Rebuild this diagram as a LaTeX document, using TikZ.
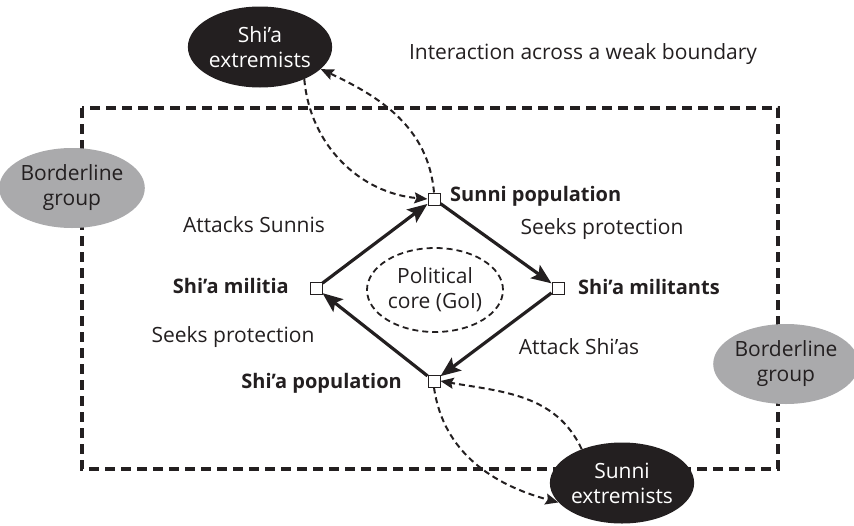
\documentclass[tikz,border=0pt]{standalone}
\usepackage{fontspec}
\setmainfont{Open Sans}
\usetikzlibrary{arrows.meta,shapes.geometric}
\definecolor{bgray}{RGB}{170,170,172}
\definecolor{ink}{RGB}{35,31,32}
\begin{document}
\begin{tikzpicture}[x=1pt,y=-1pt,
  every node/.style={font=\fontsize{21}{25}\selectfont, text=ink},
  frame/.style={draw=ink, line width=3.6pt, dash pattern=on 10pt off 6pt},
  grayell/.style={ellipse, fill=bgray, minimum width=132pt, minimum height=80pt, inner sep=0pt, align=center},
  blackell/.style={ellipse, fill=ink, text=white, minimum width=134pt, minimum height=81pt, inner sep=0pt, align=center},
  pbox/.style={rectangle, draw=ink, fill=white, line width=1pt, minimum size=12pt, inner sep=0pt},
  lab/.style={font=\fontsize{20}{24}\selectfont\bfseries, inner sep=0pt},
  txt/.style={inner sep=0pt},
  solidarr/.style={draw=ink, line width=3.2pt, -{Stealth[length=20pt,width=16pt,inset=4pt]}},
  dcurve/.style={draw=ink, line width=2pt, dash pattern=on 6pt off 4pt, -{Stealth[length=13pt,width=11pt,inset=2pt]}}
]
\path[use as bounding box] (0,0) rectangle (854,525);
\draw[frame] (82,108) rectangle (778,469);
% ellipses
\node[grayell] (bl) at (72,188) {Borderline\\group};
\node[grayell] (br) at (786,364) {Borderline\\group};
\node[blackell] (se) at (260,47) {Shi’a\\extremists};
\node[blackell] (ue) at (622,483) {Sunni\\extremists};
\node[ellipse, draw=ink, line width=1.8pt, dash pattern=on 6pt off 4pt, minimum width=136pt, minimum height=84pt, inner sep=0pt, align=center] (core) at (435,290) {Political\\core (GoI)};
% boxes
\node[pbox] (sp) at (434,199) {};
\node[pbox] (mt) at (558,288) {};
\node[pbox] (ml) at (316,288) {};
\node[pbox] (hp) at (434,381) {};
% labels
\node[lab, anchor=west] (lsp) at (450,196) {Sunni population};
\node[lab, anchor=west] (lmt) at (578,287) {Shi’a militants};
\node[lab, anchor=east] (lml) at (289,286) {Shi’a militia};
\node[lab, anchor=east] (lhp) at (402,383) {Shi’a population};
\node[txt] (t1) at (254,225) {Attacks Sunnis};
\node[txt] (t2) at (602,229) {Seeks protection};
\node[txt] (t3) at (233,337) {Seeks protection};
\node[txt] (t4) at (579,347) {Attack Shi’as};
\node[txt] (t5) at (583,54) {Interaction across a weak boundary};
% solid arrows
\draw[solidarr] (ml) -- (sp);
\draw[solidarr] (sp) -- (mt);
\draw[solidarr] (mt) -- (hp);
\draw[solidarr] (hp) -- (ml);
% dashed curves
\draw[dcurve] (se.-36) to[out=-85,in=175] (sp.west);
\draw[dcurve] (sp.north) to[out=95,in=-25] (se.-20);
\draw[dcurve] (hp.south) to[out=-82,in=165] (ue.197);
\draw[dcurve] (ue.140) to[out=115,in=-10] (hp.east);
\end{tikzpicture}
\end{document}
